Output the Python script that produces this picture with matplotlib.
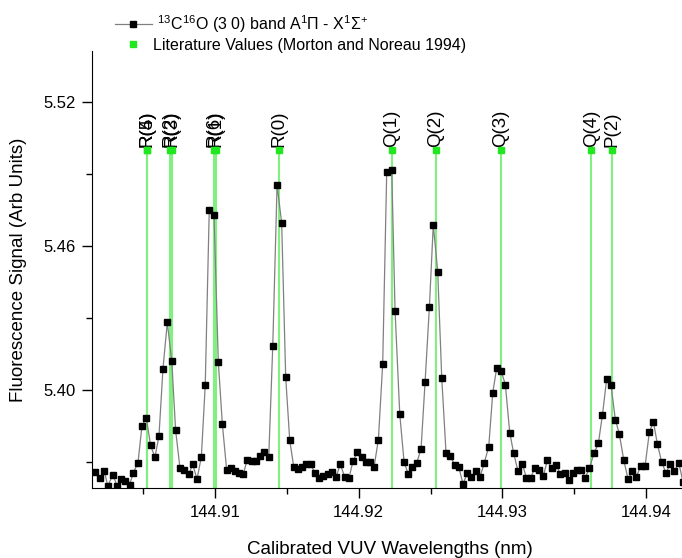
import matplotlib.pyplot as plt
from matplotlib.ticker import MultipleLocator, FormatStrFormatter

plt.rcParams['font.family'] = ['Liberation Sans', 'DejaVu Sans']
plt.rcParams['mathtext.fontset'] = 'custom'
plt.rcParams['mathtext.rm'] = 'Liberation Sans'
plt.rcParams['mathtext.it'] = 'Liberation Sans:italic'
plt.rcParams['mathtext.bf'] = 'Liberation Sans:bold'

# Spectre mesuré (nm, unités arbitraires)
wavelength = [
    144.90165, 144.90202, 144.90229, 144.90254, 144.90288, 144.90321, 144.90344, 144.90377,
    144.90405, 144.90432, 144.90464, 144.90492, 144.90522, 144.90552, 144.90582, 144.90610,
    144.90638, 144.90668, 144.90699, 144.90726, 144.90756, 144.90786, 144.90817, 144.90845,
    144.90875, 144.90905, 144.90932, 144.90960, 144.90993, 144.91023, 144.91051, 144.91081,
    144.91109, 144.91139, 144.91167, 144.91197, 144.91225, 144.91255, 144.91283, 144.91313,
    144.91343, 144.91374, 144.91402, 144.91432, 144.91464, 144.91492, 144.91520, 144.91548,
    144.91578, 144.91606, 144.91636, 144.91666, 144.91696, 144.91726, 144.91754, 144.91784,
    144.91814, 144.91842, 144.91872, 144.91903, 144.91933, 144.91961, 144.91990, 144.92021,
    144.92049, 144.92079, 144.92107, 144.92137, 144.92167, 144.92195, 144.92230, 144.92253,
    144.92286, 144.92316, 144.92345, 144.92373, 144.92404, 144.92434, 144.92462, 144.92492,
    144.92519, 144.92550, 144.92578, 144.92608, 144.92638, 144.92668, 144.92696, 144.92726,
    144.92756, 144.92784, 144.92815, 144.92845, 144.92874, 144.92905, 144.92933, 144.92961,
    144.92991, 144.93021, 144.93051, 144.93079, 144.93109, 144.93139, 144.93167, 144.93197,
    144.93225, 144.93255, 144.93285, 144.93313, 144.93344, 144.93374, 144.93403, 144.93434,
    144.93462, 144.93490, 144.93520, 144.93548, 144.93577, 144.93605, 144.93638, 144.93668,
    144.93696, 144.93726, 144.93756, 144.93786, 144.93814, 144.93845, 144.93875, 144.93905,
    144.93932, 144.93963, 144.93993, 144.94023, 144.94051, 144.94079, 144.94109, 144.94139,
    144.94167, 144.94197, 144.94228, 144.94257,
]
signal = [
    5.3658, 5.3636, 5.3665, 5.3601, 5.3647, 5.3601, 5.3630, 5.3624,
    5.3605, 5.3657, 5.3698, 5.3853, 5.3884, 5.3770, 5.3721, 5.3809,
    5.4090, 5.4282, 5.4122, 5.3833, 5.3677, 5.3667, 5.3650, 5.3691,
    5.3630, 5.3723, 5.4020, 5.4750, 5.4730, 5.4118, 5.3860, 5.3669,
    5.3677, 5.3664, 5.3657, 5.3652, 5.3711, 5.3705, 5.3705, 5.3726,
    5.3741, 5.3721, 5.4184, 5.4854, 5.4696, 5.4054, 5.3792, 5.3681,
    5.3671, 5.3681, 5.3693, 5.3691, 5.3654, 5.3633, 5.3644, 5.3650,
    5.3659, 5.3639, 5.3691, 5.3639, 5.3636, 5.3706, 5.3741, 5.3723,
    5.3700, 5.3700, 5.3681, 5.3794, 5.4109, 5.4908, 5.4915, 5.4331,
    5.3899, 5.3700, 5.3652, 5.3681, 5.3697, 5.3756, 5.4034, 5.4346,
    5.4688, 5.4494, 5.4051, 5.3737, 5.3727, 5.3687, 5.3681, 5.3610,
    5.3654, 5.3640, 5.3662, 5.3640, 5.3698, 5.3765, 5.3990, 5.4094,
    5.4082, 5.4022, 5.3824, 5.3737, 5.3662, 5.3693, 5.3636, 5.3636,
    5.3676, 5.3669, 5.3643, 5.3708, 5.3676, 5.3689, 5.3652, 5.3654,
    5.3626, 5.3655, 5.3669, 5.3669, 5.3636, 5.3675, 5.3738, 5.3779,
    5.3896, 5.4047, 5.4021, 5.3878, 5.3817, 5.3708, 5.3629, 5.3664,
    5.3640, 5.3684, 5.3684, 5.3826, 5.3868, 5.3775, 5.3700, 5.3655,
    5.3694, 5.3664, 5.3697, 5.3618,
]

# Valeurs de la littérature (Morton et Noreau 1994)
lit_labels = ['R(5)', 'R(4)', 'R(2)', 'R(3)', 'R(6)', 'R(1)', 'R(0)',
              'Q(1)', 'Q(2)', 'Q(3)', 'Q(4)', 'P(2)']
lit_wavelength = [144.90525, 144.90529, 144.90687, 144.90699, 144.90993, 144.91007,
                  144.91448, 144.92230, 144.92538, 144.92991, 144.93619, 144.93761]
lit_level = 5.50

xlim = (144.90144, 144.94250)
ylim = (5.3593, 5.5412)

fig = plt.figure(figsize=(6.82, 5.58), dpi=100)
ax = fig.add_axes([92 / 682, 1 - 488 / 558, 590 / 682, 437 / 558])

ax.vlines(lit_wavelength, ylim[0], lit_level, colors='#80f080', lw=1.5, zorder=1)
lit, = ax.plot(lit_wavelength, [lit_level] * len(lit_wavelength), 's', color='#1fe81f',
               ms=4.5, zorder=4, label='Literature Values (Morton and Noreau 1994)')
data, = ax.plot(wavelength, signal, '-s', color='#808080', lw=0.9, mfc='black', mec='black',
                ms=3.8, zorder=3,
                label=r' $^{13}$C$^{16}$O (3 0) band A$^{1}\Pi$ - X$^{1}\Sigma^{+}$')

for wl, lab in zip(lit_wavelength, lit_labels):
    ax.annotate(lab, (wl, lit_level), xytext=(0, 2), textcoords='offset points',
                rotation=90, ha='center', va='bottom', fontsize=13.5)

ax.set_xlim(*xlim)
ax.set_ylim(*ylim)
ax.xaxis.set_major_locator(MultipleLocator(0.01))
ax.xaxis.set_minor_locator(MultipleLocator(0.005))
ax.xaxis.set_major_formatter(FormatStrFormatter('%.2f'))
ax.yaxis.set_major_locator(MultipleLocator(0.06))
ax.yaxis.set_minor_locator(MultipleLocator(0.03))
ax.yaxis.set_major_formatter(FormatStrFormatter('%.2f'))
ax.tick_params(which='major', direction='out', length=7, width=1, labelsize=12, pad=5)
ax.tick_params(which='minor', direction='out', length=4, width=1)
for side in ['top', 'right']:
    ax.spines[side].set_visible(False)

ax.set_xlabel('Calibrated VUV Wavelengths (nm)', fontsize=13.5)
ax.set_ylabel('Fluorescence Signal (Arb Units)', fontsize=13.5)
ax.xaxis.set_label_coords(0.505, -0.122)
ax.yaxis.set_label_coords(-0.110, 0.5)

fig.legend(handles=[data, lit], loc='upper left', bbox_to_anchor=(115 / 682, 1 - 13 / 558),
           frameon=False, fontsize=11.5, handlelength=2.3, handletextpad=0.1,
           borderpad=0, borderaxespad=0, labelspacing=0.2)

fig.savefig('out.png', dpi=100)
